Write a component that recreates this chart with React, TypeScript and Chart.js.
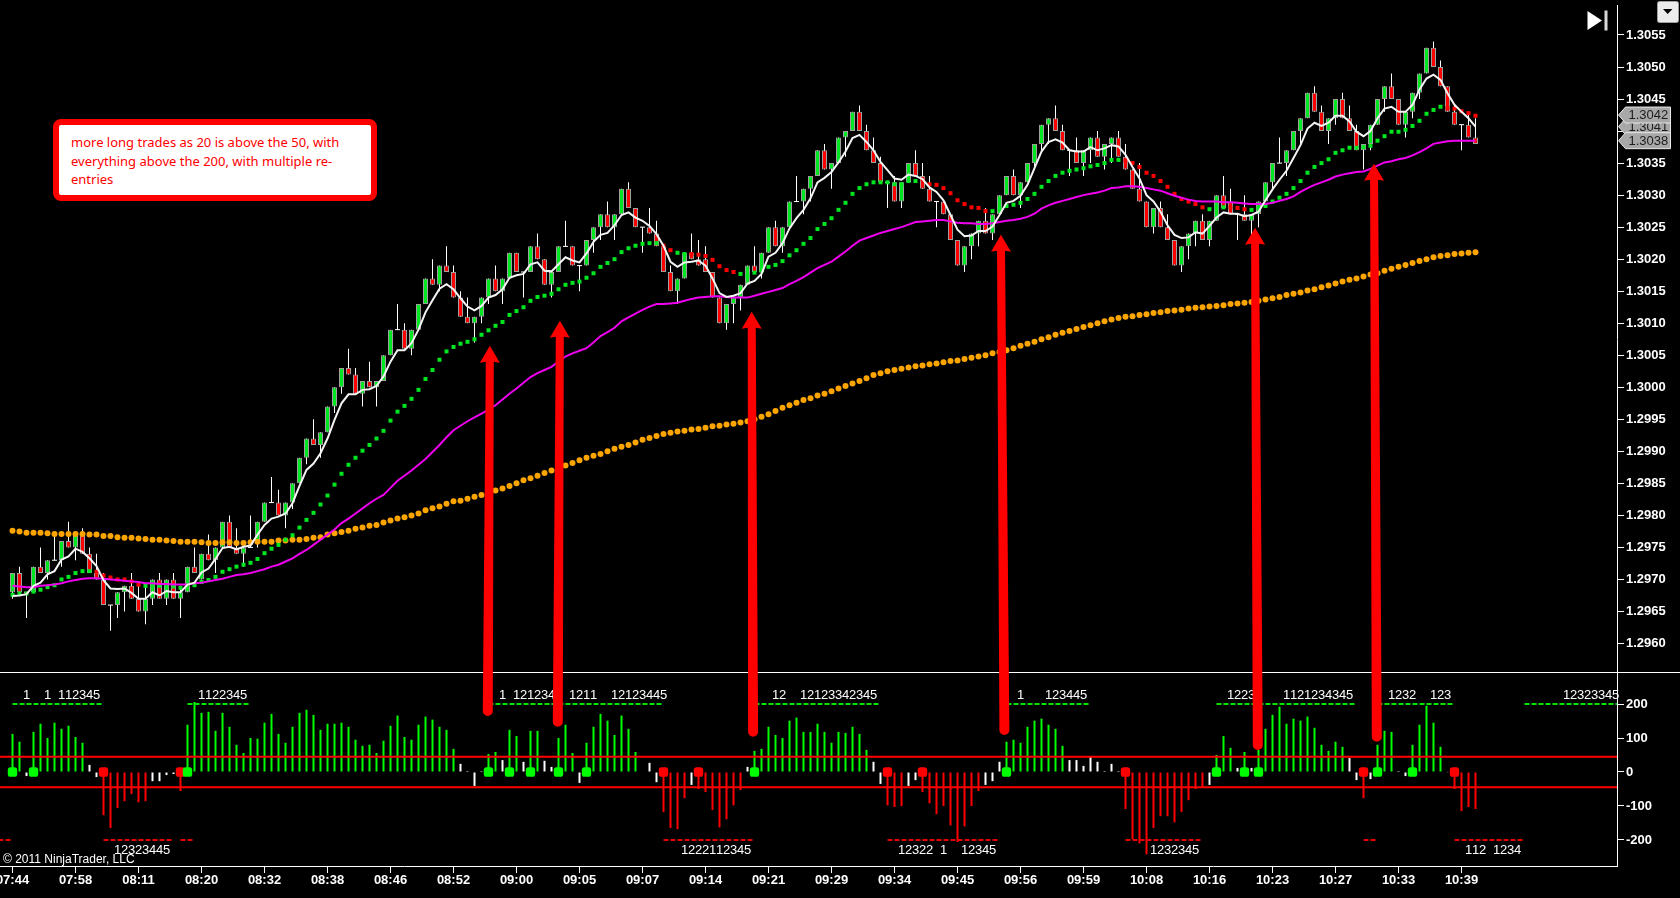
import React, { useEffect, useRef } from "react";
import { Chart, registerables } from "chart.js";

Chart.register(...registerables);

// All price arrays are in pips (price x 10000), one entry per bar.
const opens = [
12968,12971,12968,12968,12972,12971,12973,12973,12976,12975,
12977,12974,12971,12970,12966,12966,12968,12969,12967,12965,
12967,12970,12967,12970,12967,12968,12972,12970,12974,12973,
12975,12979,12975,12974,12975,12976,12979,12982,12982,12980,
12982,12985,12989,12992,12991,12993,12997,13000,13003,13002,
12999,13001,13000,13001,13005,13009,13009,13006,13009,13013,
13017,13016,13019,13018,13014,13011,13010,13011,13014,13017,
13015,13017,13021,13018,13018,13022,13020,13016,13018,13022,
13022,13019,13019,13023,13025,13027,13025,13027,13031,13028,
13025,13025,13024,13022,13018,13015,13017,13021,13020,13020,
13018,13014,13010,13013,13014,13016,13019,13018,13021,13025,
13022,13025,13029,13029,13031,13033,13037,13034,13035,13039,
13040,13043,13040,13037,13035,13032,13032,13029,13032,13035,
13033,13031,13029,13029,13027,13023,13019,13022,13024,13026,
13024,13027,13030,13033,13030,13032,13035,13038,13041,13042,
13040,13037,13037,13035,13037,13039,13036,13038,13039,13036,
13034,13031,13029,13025,13028,13025,13023,13019,13022,13024,
13026,13023,13026,13030,13029,13027,13027,13026,13027,13029,
13032,13035,13035,13037,13040,13042,13046,13043,13040,13042,
13045,13042,13040,13037,13038,13041,13045,13047,13045,13041,
13043,13046,13049,13053,13050,13047,13043,13041,13041,13039];

const closes = [
12971,12968,12968,12972,12971,12973,12973,12976,12975,12977,
12974,12971,12970,12966,12966,12968,12969,12967,12965,12967,
12970,12967,12970,12967,12968,12972,12971,12974,12973,12975,
12979,12975,12974,12975,12975,12979,12982,12982,12980,12982,
12985,12989,12992,12991,12993,12997,13000,13003,13002,12999,
13001,13000,13001,13005,13009,13009,13006,13009,13013,13017,
13016,13019,13018,13014,13011,13010,13011,13014,13017,13015,
13017,13021,13018,13018,13022,13020,13016,13018,13022,13022,
13019,13019,13023,13025,13027,13025,13027,13031,13028,13025,
13025,13024,13022,13018,13015,13017,13021,13020,13019,13018,
13014,13010,13013,13014,13016,13019,13018,13021,13025,13022,
13025,13029,13029,13031,13033,13037,13034,13035,13039,13040,
13043,13040,13037,13035,13032,13032,13029,13032,13035,13033,
13031,13029,13029,13027,13023,13019,13022,13024,13026,13024,
13027,13030,13033,13030,13032,13035,13038,13041,13042,13040,
13037,13037,13035,13037,13039,13036,13038,13039,13036,13034,
13031,13029,13025,13028,13025,13023,13019,13022,13024,13026,
13023,13026,13030,13028,13027,13027,13026,13027,13029,13032,
13035,13035,13037,13040,13042,13046,13043,13040,13042,13045,
13042,13040,13037,13038,13041,13045,13047,13045,13041,13043,
13046,13049,13053,13050,13047,13043,13041,13041,13039,13038];

const highs = [
12971,12972,12968,12972,12975,12973,12977,12976,12979,12977,
12978,12975,12974,12971,12966,12968,12969,12971,12969,12969,
12970,12971,12970,12971,12969,12972,12975,12974,12977,12975,
12979,12980,12978,12975,12980,12979,12982,12986,12984,12982,
12985,12989,12992,12995,12993,12997,13000,13003,13006,13003,
13001,13004,13001,13005,13009,13013,13010,13009,13013,13017,
13020,13019,13022,13019,13015,13014,13011,13014,13017,13019,
13017,13021,13021,13018,13022,13024,13020,13018,13022,13026,
13022,13019,13023,13025,13027,13029,13027,13031,13032,13028,
13025,13028,13026,13022,13019,13017,13021,13024,13023,13022,
13018,13014,13013,13014,13016,13019,13022,13021,13025,13026,
13025,13029,13033,13031,13033,13037,13038,13035,13039,13040,
13043,13044,13041,13039,13036,13032,13033,13032,13035,13037,
13035,13033,13029,13029,13027,13023,13022,13024,13026,13028,
13027,13030,13033,13034,13032,13035,13038,13041,13042,13044,
13041,13037,13039,13037,13039,13040,13038,13039,13040,13038,
13034,13035,13029,13028,13029,13027,13023,13022,13024,13026,
13027,13026,13030,13033,13031,13027,13030,13027,13029,13032,
13035,13039,13037,13040,13042,13046,13047,13044,13042,13045,
13046,13044,13041,13038,13041,13045,13047,13049,13045,13043,
13046,13049,13053,13054,13051,13047,13044,13041,13043,13042];

const lows = [
12967,12968,12964,12968,12971,12970,12973,12972,12975,12973,
12974,12971,12970,12966,12962,12964,12965,12967,12965,12963,
12966,12967,12966,12967,12964,12968,12971,12970,12973,12971,
12975,12975,12974,12972,12975,12975,12979,12982,12980,12978,
12981,12985,12988,12991,12989,12993,12996,12999,13002,12999,
12997,13000,12997,13001,13005,13009,13006,13005,13009,13013,
13016,13015,13018,13014,13011,13010,13007,13010,13013,13015,
13013,13017,13018,13014,13018,13020,13016,13014,13018,13022,
13019,13015,13019,13021,13023,13025,13023,13027,13028,13025,
13021,13024,13022,13018,13015,13013,13017,13020,13019,13018,
13014,13010,13009,13010,13012,13016,13018,13017,13021,13022,
13021,13025,13029,13027,13029,13033,13034,13031,13035,13036,
13040,13040,13037,13035,13032,13028,13029,13028,13032,13033,
13031,13029,13025,13027,13023,13019,13018,13020,13022,13024,
13023,13027,13030,13030,13028,13032,13034,13037,13038,13040,
13037,13033,13035,13033,13035,13036,13034,13035,13036,13034,
13031,13029,13025,13024,13025,13023,13019,13018,13020,13022,
13023,13022,13026,13028,13027,13023,13026,13023,13025,13029,
13031,13035,13033,13037,13038,13042,13043,13040,13038,13041,
13042,13040,13037,13034,13037,13041,13043,13045,13041,13039,
13042,13045,13049,13050,13047,13043,13041,13037,13039,13038];

const fastAverage = [
12967.4,12967.5,12967.7,12969,12969.5,12970.8,12971.3,12973.1,12973.6,12974.8,
12974.3,12973.3,12972.1,12969.9,12968.6,12968.5,12968.6,12967.9,12967,12967,
12968,12967.5,12968.2,12968,12968,12969.2,12969.5,12971.1,12971.7,12973.2,
12974.9,12975.1,12974.7,12975.1,12975.3,12977,12978.5,12979.5,12979.8,12980.3,
12981.9,12984.6,12987.1,12988.1,12989.7,12992,12994.9,12997.5,12998.9,12998.9,
12999.6,12999.7,13000.2,13001.7,13004,13005.8,13005.8,13006.9,13009,13011.7,
13013.6,13015.4,13016.1,13015.3,13013.9,13012.6,13012,13012.7,13014,13014.4,
13015.3,13017.1,13017.5,13017.7,13019.2,13019.5,13018.2,13018.1,13019.2,13020.3,
13019.8,13019.5,13020.9,13022.7,13023.8,13024.1,13025.3,13026.9,13027.3,13026.5,
13026,13025.2,13023.9,13022.1,13019.6,13018.8,13019.5,13019.6,13019.8,13019,
13017,13014.7,13014.1,13014.3,13014.7,13016.2,13016.6,13017.7,13020.4,13021,
13022.5,13024.8,13026.4,13027.7,13029.5,13032,13032.7,13033.6,13035.1,13036.8,
13038.9,13039.4,13038.3,13037,13035.2,13033.9,13032.6,13032.4,13033.2,13033,
13032.5,13031.2,13030.5,13029.2,13026.9,13024.6,13023.6,13023.7,13024.4,13024.4,
13025.1,13026.9,13028.8,13029.1,13029.9,13031.6,13034.2,13036.8,13038.3,13038.7,
13038.2,13037,13036.8,13036.8,13037.5,13037,13037.3,13037.8,13037.6,13036.3,
13034.4,13032.6,13030,13029,13027.4,13025.3,13023.8,13023.3,13023.4,13024.2,
13024,13025.2,13026.5,13027.3,13027.1,13027.1,13026.7,13026.9,13027.4,13029.2,
13030.9,13032.4,13033.8,13035.8,13037.8,13040.4,13041.3,13040.8,13041.3,13042.4,
13042.4,13041.5,13039.9,13039.2,13040,13042,13043.5,13043.8,13043,13043,
13044.1,13046.5,13048.2,13048.8,13048,13045.9,13044.1,13043,13042,13040.7];

const average20 = [
12967.6,12967.8,12967.8,12968.1,12968.4,12968.8,12969.1,12970,12970.4,12971,
12971.3,12971.3,12971.2,12970.6,12970.3,12970,12970,12969.7,12969.2,12969,
12969,12969,12969,12968.9,12968.7,12969.1,12969.1,12969.6,12969.9,12970.4,
12971.2,12971.6,12972,12972.3,12972.6,12973.2,12974.1,12974.8,12975.4,12976.2,
12976.9,12978.1,12979.3,12980.4,12981.7,12983.1,12984.8,12986.5,12987.9,12989,
12990.1,12991,12992,12993.2,12994.8,12996.2,12997.1,12998.2,12999.6,13001.3,
13002.7,13004.3,13005.6,13006.3,13006.8,13007.1,13007.5,13008.2,13008.9,13009.6,
13010.2,13011.3,13011.9,13012.5,13013.5,13014.1,13014.3,13014.6,13015.3,13016,
13016.3,13016.5,13017.1,13017.8,13018.8,13019.4,13020,13021.1,13021.7,13022.1,
13022.4,13022.5,13022.5,13022.1,13021.4,13021,13020.8,13020.8,13020.7,13020.5,
13019.9,13018.9,13018.3,13018,13017.7,13017.4,13017.9,13018.2,13018.8,13019.1,
13019.7,13020.6,13021.4,13022.4,13023.3,13024.7,13025.5,13026.4,13027.7,13028.8,
13030.2,13031.1,13031.7,13032,13032,13032,13031.7,13031.7,13032.2,13032.2,
13032.5,13031.7,13031.6,13031.1,13030.3,13029.2,13028.6,13028.1,13028,13027.5,
13027.5,13027.9,13028.3,13028.5,13028.8,13029.4,13030.2,13031.3,13032.2,13033,
13033.5,13033.8,13034,13034.2,13034.5,13034.7,13035,13035.5,13035.5,13035.4,
13035,13034.4,13033.5,13033,13032.2,13031.3,13030.2,13029.4,13029,13028.6,
13028.1,13027.8,13028.1,13028.1,13028.1,13028,13027.8,13027.7,13028,13028.3,
13029,13029.6,13030.2,13031.1,13032.2,13033.5,13034.4,13035,13035.6,13036.6,
13037,13037.4,13037.4,13037.5,13037.7,13038.5,13039.2,13039.9,13039.9,13040.2,
13040.8,13041.6,13042.7,13043.3,13043.8,13043.6,13043.5,13043.1,13042.8,13042.4];

const average20FallingRuns = [[12,18],[93,94],[97,103],[130,139],[159,170],[174,176],[205,209]];

const average50 = [
12969,12968.9,12968.8,12968.8,12969,12969.1,12969.2,12969.4,12969.7,12969.9,
12970.1,12970.2,12970.2,12970.1,12970,12969.9,12969.8,12969.7,12969.6,12969.4,
12969.4,12969.3,12969.3,12969.2,12969.2,12969.2,12969.4,12969.5,12969.7,12969.9,
12970.1,12970.4,12970.7,12970.8,12971,12971.3,12971.6,12972,12972.3,12972.8,
12973.3,12974,12974.6,12975.4,12976.2,12977,12977.8,12978.8,12979.5,12980.3,
12981.1,12981.9,12982.6,12983.2,12984.3,12985.4,12986.2,12987,12987.9,12988.8,
12989.9,12991,12992.2,12993.3,12994,12994.7,12995.3,12995.9,12996.5,12997.2,
12998.1,12999,12999.8,13000.7,13001.6,13002.2,13002.7,13003.2,13004,13004.8,
13005.3,13005.7,13006.1,13007,13008,13008.6,13009.3,13010.3,13010.9,13011.5,
13012.1,13012.6,13013,13013,13013.1,13013.2,13013.5,13013.8,13014,13014.1,
13014.2,13014.2,13014.1,13014,13014,13014,13014.3,13014.6,13014.9,13015.2,
13015.5,13016.1,13016.6,13017.2,13017.9,13018.6,13019.1,13019.6,13020.4,13021.2,
13022.1,13022.9,13023.3,13023.7,13024.1,13024.4,13024.7,13025,13025.4,13025.8,
13025.9,13026,13026.1,13026.1,13025.9,13025.7,13025.6,13025.6,13025.5,13025.5,
13025.6,13025.8,13026,13026.1,13026.3,13026.6,13027.1,13027.9,13028.4,13028.8,
13029.1,13029.4,13029.7,13030,13030.2,13030.4,13030.7,13031.1,13031.2,13031.4,
13031.4,13031.3,13031.1,13030.9,13030.7,13030.3,13029.9,13029.6,13029.3,13029.1,
13029,13029,13029,13028.9,13028.9,13028.8,13028.7,13028.6,13028.6,13028.6,
13028.8,13029.1,13029.4,13029.8,13030.5,13031.1,13031.6,13032,13032.4,13032.9,
13033.2,13033.4,13033.6,13033.7,13034.1,13034.6,13035.1,13035.3,13035.6,13035.8,
13036.2,13036.7,13037.3,13038,13038.2,13038.4,13038.5,13038.5,13038.5,13038.5];

const average200 = [
12977.6,12977.5,12977.3,12977.3,12977.3,12977.2,12977.1,12977.1,12977.1,12977.1,
12977.1,12977,12977,12976.8,12976.8,12976.6,12976.5,12976.5,12976.4,12976.3,
12976.2,12976.2,12976.1,12976,12975.9,12975.9,12975.9,12975.8,12975.7,12975.7,
12975.8,12975.8,12975.7,12975.7,12975.8,12975.9,12975.9,12975.9,12976.1,12976.1,
12976.2,12976.2,12976.3,12976.5,12976.6,12977,12977.2,12977.4,12977.6,12977.9,
12978.1,12978.4,12978.5,12978.9,12979.2,12979.5,12979.7,12980,12980.3,12980.8,
12981.1,12981.4,12981.8,12982.2,12982.3,12982.6,12982.9,12983.2,12983.6,12983.9,
12984.2,12984.6,12985,12985.5,12985.8,12986.2,12986.6,12987,12987.4,12987.8,
12988.2,12988.6,12989,12989.3,12989.6,12990,12990.4,12990.7,12991,12991.4,
12991.8,12992.1,12992.4,12992.7,12992.9,12993.1,12993.2,12993.4,12993.5,12993.7,
12993.9,12994,12994.2,12994.3,12994.5,12994.7,12995,12995.4,12995.8,12996.3,
12996.8,12997.2,12997.6,12998,12998.3,12998.7,12999,12999.4,12999.8,13000.2,
13000.6,13001,13001.4,13001.9,13002.2,13002.5,13002.7,13002.9,13003.1,13003.3,
13003.4,13003.6,13003.7,13003.9,13004.1,13004.2,13004.4,13004.6,13004.8,13005,
13005.3,13005.5,13005.8,13006.1,13006.5,13006.8,13007.1,13007.5,13007.8,13008.2,
13008.5,13008.8,13009.1,13009.4,13009.7,13010,13010.3,13010.6,13010.8,13011,
13011.1,13011.3,13011.4,13011.6,13011.7,13011.9,13012,13012.1,13012.3,13012.4,
13012.5,13012.6,13012.7,13012.8,13013,13013.1,13013.2,13013.3,13013.5,13013.7,
13013.9,13014.1,13014.4,13014.6,13014.8,13015.1,13015.3,13015.6,13015.9,13016.2,
13016.5,13016.8,13017,13017.3,13017.6,13017.8,13018.2,13018.5,13018.8,13019.1,
13019.4,13019.7,13020,13020.3,13020.5,13020.6,13020.8,13020.9,13021,13021.1];

const oscillator = [
112,89,-12,118,142,100,145,127,136,103,
86,21,-15,-127,-165,-106,-86,-65,-89,-86,
-27,-27,-9,-6,-56,139,206,174,177,121,
174,133,80,56,100,98,145,171,112,86,
133,174,183,168,124,142,142,145,133,95,
77,80,56,92,136,166,103,95,139,163,
154,133,124,68,24,3,-41,3,53,59,
35,124,106,30,121,121,33,15,100,139,
56,-32,86,133,171,151,109,166,127,59,
0,27,-30,-118,-165,-168,-77,-38,-50,-59,
-112,-163,-139,-98,-53,15,62,68,133,109,
100,151,160,118,118,142,118,86,118,115,
133,112,65,30,-35,-98,-103,-100,-41,-24,
-59,-92,-124,-100,-157,-206,-160,-100,-56,-38,
-27,30,89,95,86,133,151,157,139,127,
77,35,35,18,44,30,3,24,3,-109,
-198,-210,-242,-165,-130,-130,-148,-118,-83,-50,
-46,-38,50,106,71,12,59,12,65,127,
168,192,142,157,151,163,130,80,62,89,
74,41,-24,-77,-21,80,121,118,3,-12,
80,139,195,145,74,-2,-50,-115,-103,-109];

const oscLevels = [45, -45];
const greenEntryBars = [0,3,25,68,71,74,78,82,106,142,172,176,178,195,200];
const redEntryBars = [13,24,93,98,125,130,159,193,206];
const greenDashRuns = [[0,13],[25,34],[68,93],[106,124],[142,154],[172,192],[195,206],[216,229.2]];
const redDashRuns = [[-2,0],[13,23],[24,26],[93,106],[125,141],[159,170],[193,195],[206,216]];
const upperCounts: [number, string][] = [[2,"1"],[5,"1"],[7,"112345"],[27,"1122345"],[70,"1"],[72,"121234"],[80,"1211"],[86,"12123445"],[109,"12"],[113,"12123342345"],[144,"1"],[148,"123445"],[174,"1223"],[182,"1121234345"],[197,"1232"],[203,"123"],[222,"12323345"]];
const lowerCounts: [number, string][] = [[15,"12323445"],[96,"1222112345"],[127,"12322"],[133,"1"],[136,"12345"],[163,"1232345"],[208,"112"],[212,"1234"]];
const timeLabels = ["07:44","07:58","08:11","08:20","08:32","08:38","08:46","08:52","09:00","09:05","09:07","09:14","09:21","09:29","09:34","09:45","09:56","09:59","10:08","10:16","10:23","10:27","10:33","10:39"];
const priceTags = [{ at: 13040.7, text: "1.3041" },{ at: 13042.5, text: "1.3042" },{ at: 13038.5, text: "1.3038" }];
// Annotation arrows: tip on the price pane, tail on the oscillator pane.
const arrowTipBars = [68.2,78.2,105.6,141.2,177.5,194.5];
const arrowTipPips = [13006.5,13010.4,13011.8,13023.8,13024.9,13034.9];
const arrowTailBars = [67.9,77.9,105.8,141.7,177.9,194.9];
const arrowTailOsc = [165,133,104,109,65,89];

const barsPerTimeTick = 9;
const FONT = '"Liberation Sans", Arial, sans-serif';
const GREEN = "#00e620";
const RED = "#ff0000";
const toPrice = (p: number) => p / 10000;
const isFalling = (i: number) => average20FallingRuns.some(([a, b]) => i >= a && i <= b);
const series = (values: number[]) => values.map((v, i) => ({ x: i, y: toPrice(v) }));
const dashData = (runs: number[][], y: number) =>
  runs.flatMap(([a, b]) => [{ x: a, y }, { x: b, y }, { x: b + 0.01, y: null as any }]);

const overlayPlugin = {
  id: "overlay",
  afterDraw(chart: any) {
    const { ctx, scales } = chart;
    const x = scales.x, yP = scales.y, yO = scales.yOsc;
    ctx.save();

    // pane divider
    ctx.strokeStyle = "#ffffff";
    ctx.lineWidth = 1;
    const dy = Math.round(yO.top) - 0.5;
    ctx.beginPath(); ctx.moveTo(0, dy); ctx.lineTo(chart.width, dy); ctx.stroke();

    // bar counters
    ctx.fillStyle = "#ffffff";
    ctx.font = `13px ${FONT}`;
    ctx.textAlign = "center";
    ctx.textBaseline = "middle";
    const counts = (rows: [number, string][], value: number) => {
      rows.forEach(([start, digits]) => {
        [...digits].forEach((d, k) => ctx.fillText(d, x.getPixelForValue(start + k), yO.getPixelForValue(value)));
      });
    };
    counts(upperCounts, 226);
    counts(lowerCounts, -232);

    // arrows
    arrowTipBars.forEach((b, i) => {
      const tx = x.getPixelForValue(b), ty = yP.getPixelForValue(toPrice(arrowTipPips[i]));
      const bx = x.getPixelForValue(arrowTailBars[i]), by = yO.getPixelForValue(arrowTailOsc[i]);
      const headH = 17, headW = 10;
      const nx = tx + (bx - tx) * (headH / (by - ty));
      ctx.fillStyle = "#ff0000";
      ctx.beginPath();
      ctx.moveTo(tx, ty);
      ctx.lineTo(nx + headW, ty + headH);
      ctx.lineTo(nx + 4, ty + headH - 1);
      ctx.lineTo(bx + 5, by - 5);
      ctx.arc(bx, by - 5, 5, 0, Math.PI);
      ctx.lineTo(nx - 4, ty + headH - 1);
      ctx.lineTo(nx - headW, ty + headH);
      ctx.closePath();
      ctx.fill();
    });

    // price tags
    priceTags.forEach((t) => {
      const py = yP.getPixelForValue(toPrice(t.at));
      ctx.fillStyle = "#a8a8a8";
      ctx.strokeStyle = "#e8e8e8";
      ctx.lineWidth = 1;
      ctx.beginPath();
      ctx.moveTo(1618.5, py);
      ctx.lineTo(1625.5, py - 8);
      ctx.lineTo(1670.5, py - 8);
      ctx.lineTo(1670.5, py + 8);
      ctx.lineTo(1625.5, py + 8);
      ctx.closePath();
      ctx.fill();
      ctx.stroke();
      ctx.fillStyle = "#1c1c1c";
      ctx.font = `13px ${FONT}`;
      ctx.textAlign = "left";
      ctx.textBaseline = "middle";
      ctx.fillText(t.text, 1628.5, py + 0.5);
    });

    // end-of-chart icon
    ctx.fillStyle = "#ffffff";
    ctx.beginPath(); ctx.moveTo(1587.5, 11); ctx.lineTo(1602, 20.5); ctx.lineTo(1587.5, 30); ctx.closePath(); ctx.fill();
    ctx.fillStyle = "#d8d8d8";
    ctx.fillRect(1604.5, 10.5, 3, 20);

    // dropdown button
    ctx.fillStyle = "#ececec";
    ctx.strokeStyle = "#a0a0a0";
    ctx.beginPath(); ctx.roundRect(1657.5, 1.5, 21, 21, 2); ctx.fill(); ctx.stroke();
    ctx.fillStyle = "#000000";
    ctx.beginPath(); ctx.moveTo(1663, 9); ctx.lineTo(1672.5, 9); ctx.lineTo(1667.7, 14); ctx.closePath(); ctx.fill();

    // copyright
    ctx.fillStyle = "#ffffff";
    ctx.font = `12px ${FONT}`;
    ctx.textAlign = "left";
    ctx.textBaseline = "middle";
    ctx.fillText("\u00a9 2011 NinjaTrader, LLC", 3, 860);
    ctx.restore();
  },
};

export default function App() {
  const ref = useRef<HTMLCanvasElement>(null);
  useEffect(() => {
    document.body.style.margin = "0";
    document.body.style.background = "#000";
    const bars = opens.map((_, i) => i);
    const dojiBars = bars.filter((i) => opens[i] === closes[i]);
    const bodyBars = bars.filter((i) => opens[i] !== closes[i]);
    const baseLine = { type: "line", xAxisID: "x", yAxisID: "y", pointRadius: 0, fill: false };
    const noPadding = (s: any) => {
      s.paddingLeft = 0; s.paddingRight = 0; s.paddingTop = 0; s.paddingBottom = 0;
    };
    const yCommon = {
      type: "linear", position: "right", stack: "panes", offset: false,
      border: { color: "#ffffff", width: 1 },
      grid: { drawOnChartArea: false, tickLength: 7, tickColor: "#ffffff", color: "#ffffff" },
      afterFit: (s: any) => { s.width = 63; noPadding(s); },
    };
    const chart = new Chart(ref.current as HTMLCanvasElement, {
      type: "bar",
      plugins: [overlayPlugin],
      data: {
        datasets: [
          {
            label: "Wicks", type: "bar", order: 20, xAxisID: "x", yAxisID: "y", grouped: false, barThickness: 1,
            inflateAmount: 0, backgroundColor: "#ffffff",
            data: bars.map((i) => ({ x: i, y: [toPrice(lows[i]), toPrice(highs[i])] })),
          },
          {
            label: "Bodies", type: "bar", order: 19, xAxisID: "x", yAxisID: "y", grouped: false, barThickness: 5,
            inflateAmount: 0, borderWidth: 1, borderColor: "#a0a0a0", borderSkipped: false,
            backgroundColor: bodyBars.map((i) => (closes[i] > opens[i] ? GREEN : RED)),
            data: bodyBars.map((i) => ({ x: i, y: [toPrice(opens[i]), toPrice(closes[i])] })),
          },
          {
            ...baseLine, label: "Doji", order: 18, showLine: false, pointStyle: "line", pointRadius: 2.5,
            pointBorderColor: "#ffffff", pointBorderWidth: 1,
            data: dojiBars.map((i) => ({ x: i, y: toPrice(closes[i]) })),
          },
          {
            ...baseLine, label: "MA 200", order: 6, showLine: false, pointStyle: "circle", pointRadius: 3,
            pointBackgroundColor: "#ffa500", pointBorderWidth: 0, data: series(average200),
          },
          {
            ...baseLine, label: "MA 20", order: 5, showLine: false, pointStyle: "rect", pointRadius: 2.83,
            pointBackgroundColor: bars.map((i) => (isFalling(i) ? RED : GREEN)), pointBorderWidth: 0, data: series(average20),
          },
          { ...baseLine, label: "MA 50", order: 4, borderColor: "#f000f0", borderWidth: 2, data: series(average50) },
          { ...baseLine, label: "Fast MA", order: 3, borderColor: "#f4f4f4", borderWidth: 2, data: series(fastAverage) },
          {
            label: "Oscillator", type: "bar", order: 10, xAxisID: "x", yAxisID: "yOsc", grouped: false, barThickness: 2,
            inflateAmount: 0,
            backgroundColor: oscillator.map((v) => (v >= 45 ? "#00ff00" : v <= -45 ? RED : "#ffffff")),
            data: oscillator.map((v, i) => ({ x: i, y: v })),
          },
          ...oscLevels.map((level) => ({
            ...baseLine, label: `Level ${level}`, order: 8, yAxisID: "yOsc", borderColor: RED, borderWidth: 2,
            data: [{ x: -2, y: level }, { x: 230, y: level }],
          })),
          { ...baseLine, label: "Up run", order: 9, yAxisID: "yOsc", borderColor: "#00e600", borderWidth: 2, borderDash: [5, 2], spanGaps: false, data: dashData(greenDashRuns, 200) },
          { ...baseLine, label: "Down run", order: 9, yAxisID: "yOsc", borderColor: "#e60000", borderWidth: 2, borderDash: [5, 2], spanGaps: false, data: dashData(redDashRuns, -200) },
          {
            ...baseLine, label: "Long entry", order: 2, yAxisID: "yOsc", showLine: false, pointStyle: "rectRounded", pointRadius: 5.5,
            pointBackgroundColor: "#00ff00", pointBorderWidth: 0, data: greenEntryBars.map((i) => ({ x: i, y: 0 })),
          },
          {
            ...baseLine, label: "Short entry", order: 2, yAxisID: "yOsc", showLine: false, pointStyle: "rectRounded", pointRadius: 5.5,
            pointBackgroundColor: RED, pointBorderWidth: 0, data: redEntryBars.map((i) => ({ x: i, y: 0 })),
          },
        ] as any,
      },
      options: {
        animation: false,
        responsive: false,
        events: [],
        layout: { autoPadding: false, padding: { top: 5, left: 0, right: 0, bottom: 0 } },
        plugins: { legend: { display: false }, tooltip: { enabled: false }, title: { display: false } },
        scales: {
          x: {
            type: "linear", min: -12.5 / 7, max: (1617 - 12.5) / 7, offset: false,
            border: { color: "#ffffff", width: 1 },
            grid: { drawOnChartArea: false, offset: false, tickLength: 7, tickColor: "#ffffff", color: "#ffffff" },
            ticks: {
              color: "#ffffff", autoSkip: false, maxRotation: 0, includeBounds: false, padding: 0,
              font: { family: FONT, size: 13, weight: "bold" },
              callback: (v: any) => timeLabels[Math.round(Number(v) / barsPerTimeTick)],
            },
            afterBuildTicks: (s: any) => { s.ticks = timeLabels.map((_, k) => ({ value: k * barsPerTimeTick })); },
            afterFit: (s: any) => { s.height = 32; noPadding(s); },
          },
          y: {
            ...yCommon, stackWeight: 668, min: 1.2955396, max: 1.3059682,
            ticks: {
              color: "#ffffff", autoSkip: false, stepSize: 0.0005, includeBounds: false, padding: 2, font: { family: FONT, size: 13, weight: "bold" },
              callback: (v: any) => Number(v).toFixed(4),
            },
          },
          yOsc: {
            ...yCommon, stackWeight: 193, min: -276.5, max: 291.2,
            ticks: { color: "#ffffff", autoSkip: false, stepSize: 100, includeBounds: false, padding: 2, font: { family: FONT, size: 13, weight: "bold" } },
          },
        },
      },
    } as any);
    return () => chart.destroy();
  }, []);

  return (
    <div style={{ position: "absolute", left: 0, top: 0, width: 1680, height: 898, background: "#000", overflow: "hidden" }}>
      <canvas ref={ref} width={1680} height={898} style={{ display: "block" }} />
      <div
        style={{
          position: "absolute", left: 53, top: 119, width: 324, height: 82, boxSizing: "border-box",
          border: "6px solid #ff0000", borderRadius: 8, background: "#fff", color: "#ff0000",
          fontFamily: '"Noto Sans", sans-serif', fontSize: 13, lineHeight: "18.5px", padding: "8px 0 0 12px",
          whiteSpace: "nowrap",
        }}
      >
        more long trades as 20 is above the 50, with<br />everything above the 200, with multiple re-<br />entries
      </div>
    </div>
  );
}
